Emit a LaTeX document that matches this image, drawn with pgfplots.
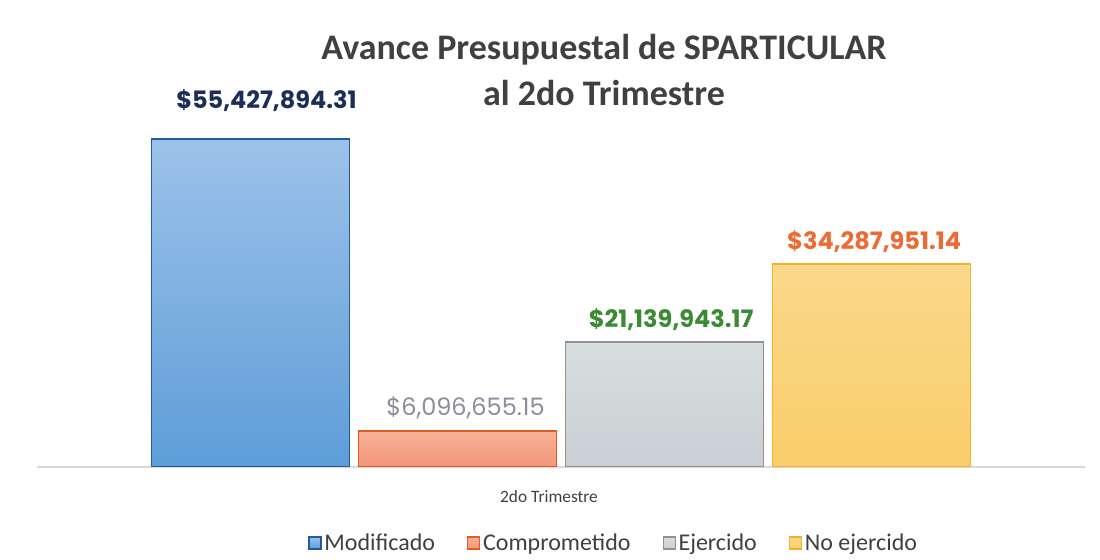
\documentclass[border=0pt]{standalone}
\usepackage{pgfplots}
\pgfplotsset{compat=1.18}
\usepackage{fontspec}
\setmainfont{Carlito}
\newfontfamily\labelfont{Poppins}
\definecolor{modtop}{HTML}{9CC2EA}
\definecolor{modbot}{HTML}{5E9DD8}
\definecolor{moddraw}{HTML}{1F5C9E}
\definecolor{comptop}{HTML}{F8B098}
\definecolor{compbot}{HTML}{F4967A}
\definecolor{compdraw}{HTML}{E25A24}
\definecolor{ejtop}{HTML}{D8DDE0}
\definecolor{ejbot}{HTML}{C9CFD2}
\definecolor{ejdraw}{HTML}{8E9294}
\definecolor{notop}{HTML}{FBD88A}
\definecolor{nobot}{HTML}{F9CD6A}
\definecolor{nodraw}{HTML}{F4B12C}
\definecolor{lblmod}{HTML}{1C2E57}
\definecolor{lblcomp}{HTML}{8C8C9C}
\definecolor{lblej}{HTML}{3C8A34}
\definecolor{lblno}{HTML}{EE6A35}
\definecolor{txt}{HTML}{404040}
\definecolor{lineg}{HTML}{D9D9D9}
\begin{document}
\begin{tikzpicture}[x=1pt,y=1pt]
\path[use as bounding box] (0,0) rectangle (825,420);
\node[align=center, text=txt, font=\bfseries\fontsize{27}{34.5}\selectfont] at (453,367.5) {Avance Presupuestal de SPARTICULAR\\al 2do Trimestre};
\begin{axis}[
  at={(27.75pt,69.75pt)}, anchor=south west,
  scale only axis, width=786pt, height=275.25pt,
  xmin=0, xmax=1048, ymin=0, ymax=62.02e6,
  ybar=6.75pt, bar width=148.5pt,
  axis x line*=bottom, axis y line=none,
  x axis line style={draw=lineg, line width=0.9pt, -},
  xtick={524}, xticklabels={2do Trimestre},
  major tick length=0pt,
  xticklabel style={font=\fontsize{13}{15}\selectfont, text=txt, yshift=-14pt, xshift=-9pt},
  ytick=\empty,
  point meta=explicit symbolic,
  legend columns=4,
  legend style={at={(0.5506,0)}, anchor=center, yshift=-57pt, draw=none, fill=none,
    font=\fontsize{18}{20}\selectfont, text=txt,
    /tikz/every even column/.append style={column sep=22pt},
    nodes={inner xsep=2pt}},
  legend image code/.code={\draw[#1, line width=1pt] (0pt,-4.5pt) rectangle (9pt,4.5pt);},
  nodes near coords,
]
\addplot[draw=moddraw, line width=1pt, top color=modtop, bottom color=modbot,
  nodes near coords style={font=\labelfont\bfseries\fontsize{18}{20}\selectfont, text=lblmod, anchor=center, yshift=28.5pt, xshift=12pt}]
  coordinates {(524,55427894.31) [\$55,427,894.31]};
\addplot[draw=compdraw, line width=1pt, top color=comptop, bottom color=compbot,
  nodes near coords style={font=\labelfont\fontsize{18}{20}\selectfont, text=lblcomp, anchor=center, yshift=17pt, xshift=6pt}]
  coordinates {(524,6096655.15) [\$6,096,655.15]};
\addplot[draw=ejdraw, line width=1pt, top color=ejtop, bottom color=ejbot,
  nodes near coords style={font=\labelfont\bfseries\fontsize{18}{20}\selectfont, text=lblej, anchor=center, yshift=17pt, xshift=5pt}]
  coordinates {(524,21139943.17) [\$21,139,943.17]};
\addplot[draw=nodraw, line width=1pt, top color=notop, bottom color=nobot,
  nodes near coords style={font=\labelfont\bfseries\fontsize{18}{20}\selectfont, text=lblno, anchor=center, yshift=17pt, xshift=2pt}]
  coordinates {(524,34287951.14) [\$34,287,951.14]};
\legend{Modificado, Comprometido, Ejercido, No ejercido}
\end{axis}
\end{tikzpicture}
\end{document}
